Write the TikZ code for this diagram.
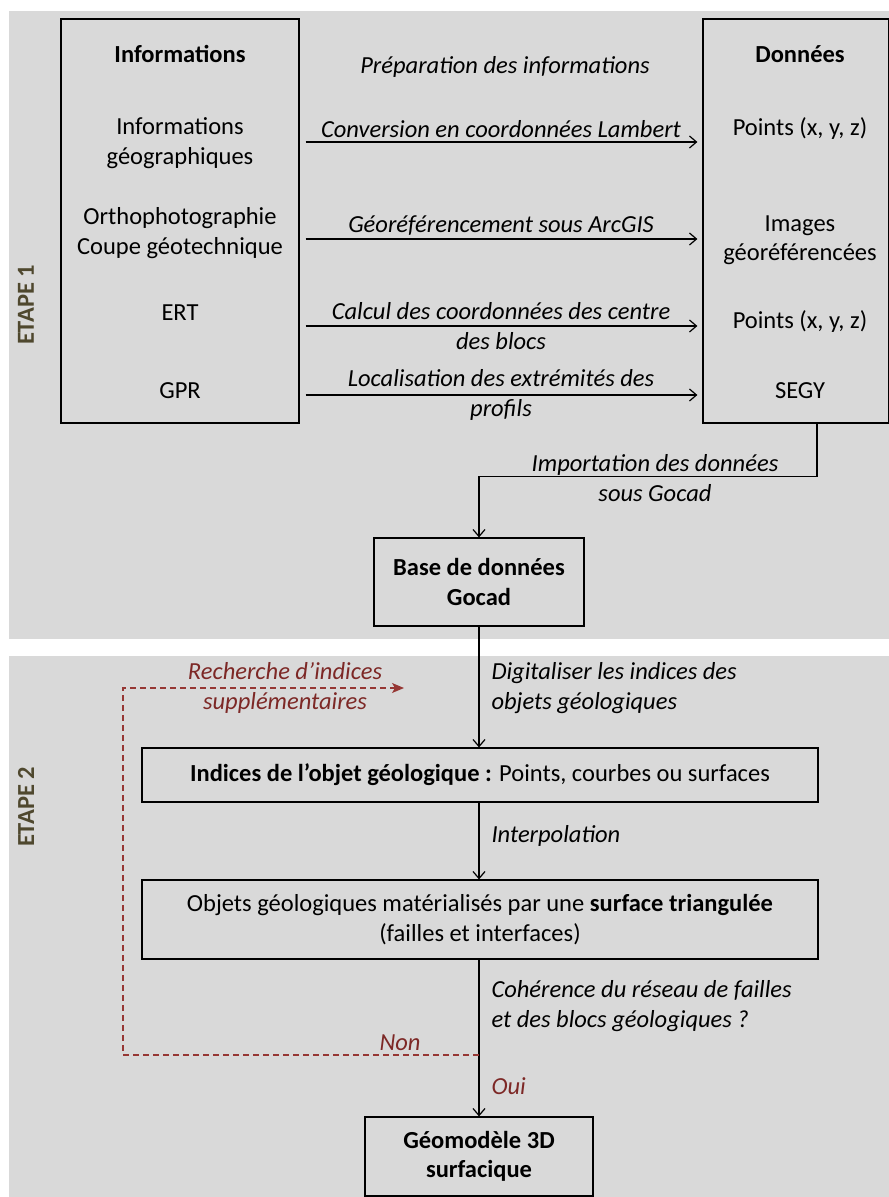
\documentclass[tikz,border=0pt]{standalone}
\usepackage{fontspec}
\setmainfont{Carlito}
\usetikzlibrary{arrows.meta}

\definecolor{panelgray}{RGB}{217,217,217}
\definecolor{retourred}{RGB}{150,55,52}
\definecolor{retourtext}{RGB}{125,40,38}
\definecolor{etapebrown}{RGB}{79,72,46}

\begin{document}
\begin{tikzpicture}[x=1pt, y=-1pt, >={Straight Barb[length=7pt,width=12pt]},
    font=\fontsize{24.5}{29.5}\selectfont,
    box/.style={draw, line width=1.2pt, inner sep=0pt, align=center},
    bold/.style={font=\fontsize{24.5}{29.5}\selectfont\bfseries},
    lbl/.style={font=\fontsize{24.5}{29.5}\selectfont\itshape, align=center},
    arr/.style={->, line width=1.2pt},
    fleche/.style={arr, shorten <=6pt, shorten >=5pt},
    retour/.style={-{Stealth[length=12pt,width=10pt,inset=3pt]}, retourred, line width=1.2pt, dash pattern=on 6pt off 4pt},
    etape/.style={rotate=90, font=\fontsize{24.5}{29.5}\selectfont\bfseries, text=etapebrown}]

    \useasboundingbox (0,0) rectangle (889,1197);
    \fill[panelgray] (9,11) rectangle (889,639);
    \fill[panelgray] (9,656) rectangle (889,1197);

    \node[etape] (etape1) at (26,305) {ETAPE 1};
    \node[etape] (etape2) at (26,807) {ETAPE 2};

    % etape 1 : informations -> donnees
    \node[box, minimum width=238pt, minimum height=404pt] (info) at (180,221) {};
    \node[box, minimum width=186pt, minimum height=404pt] (data) at (796,221) {};

    \node[bold] (infotitle) at (180,54) {Informations};
    \node[align=center] (geo) at (180,143) {Informations\\géographiques};
    \node[align=center] (ortho) at (180,233) {Orthophotographie\\Coupe géotechnique};
    \node (ert) at (180,313) {ERT};
    \node (gpr) at (180,391) {GPR};

    \node[bold] (datatitle) at (800,54) {Données};
    \node (pts1) at (800,129) {Points (x, y, z)};
    \node[align=center] (img) at (800,240) {Images\\géoréférencées};
    \node (pts2) at (800,322) {Points (x, y, z)};
    \node (segy) at (800,391) {SEGY};

    \node[lbl] (prep) at (505,67) {Préparation des informations};

    \draw[fleche] (info.east |- 0,142) -- (data.west |- 0,142) node[lbl, midway, above] {Conversion en coordonnées Lambert};
    \draw[fleche] (info.east |- 0,239) -- (data.west |- 0,239) node[lbl, midway, above] {Géoréférencement sous ArcGIS};
    \draw[fleche] (info.east |- 0,326) -- (data.west |- 0,326) node[lbl, midway] {Calcul des coordonnées des centre\\des blocs};
    \draw[fleche] (info.east |- 0,395) -- (data.west |- 0,395) node[lbl, midway] {Localisation des extrémités des\\profils};

    \node[box, minimum width=210pt, minimum height=88pt, bold] (base) at (479,582) {Base de données\\Gocad};
    \draw[arr] ([xshift=21pt]data.south) -- ++(0,53) -| (base.north);
    \node[lbl] (import) at (655,478) {Importation des données\\sous Gocad};

    % etape 2 : construction du geomodele
    \node[box, minimum width=676pt, minimum height=54pt] (indices) at (480,775) {{\bfseries Indices de l’objet géologique :} Points, courbes ou surfaces};
    \node[box, minimum width=676pt, minimum height=79pt] (objets) at (480,919.5) {Objets géologiques matérialisés par une {\bfseries surface triangulée}\\(failles et interfaces)};
    \node[box, minimum width=228pt, minimum height=79pt, bold] (geomod) at (479,1156.5) {Géomodèle 3D\\surfacique};

    \draw[arr] (base.south) -- (base.south |- indices.north);
    \node[lbl, anchor=west, align=left] (digit) at (488,688) {Digitaliser les indices des\\objets géologiques};
    \draw[arr] (base.south |- indices.south) -- (base.south |- objets.north);
    \node[lbl, anchor=west] (interp) at (488,836) {Interpolation};
    \draw[arr] (base.south |- objets.south) -- (base.south |- geomod.north);
    \node[lbl, anchor=west, align=left] (coherence) at (488,1006) {Cohérence du réseau de failles\\et des blocs géologiques ?};
    \node[lbl, anchor=west, text=retourtext] (oui) at (488,1086) {Oui};

    % retour si non coherent
    \coordinate (branche) at (base.south |- 0,1055);
    \coordinate (cible) at (404,688);
    \draw[retour] (branche) -| (123,688) -- (cible);
    \node[lbl, text=retourtext] (non) at (400,1043) {Non};
    \node[lbl, text=retourtext] (recherche) at (285,688) {Recherche d’indices\\supplémentaires};

\end{tikzpicture}
\end{document}
